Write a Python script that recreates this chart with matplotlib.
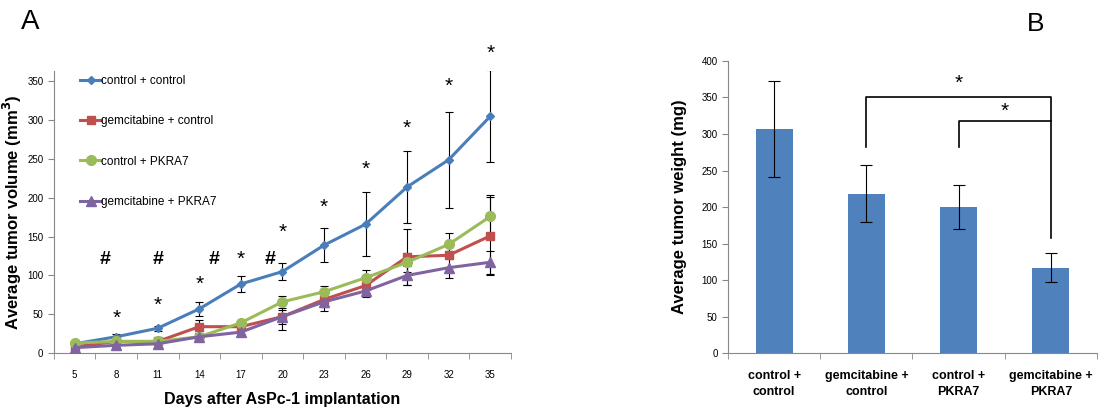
import numpy as np
import matplotlib
matplotlib.use("Agg")
import matplotlib.pyplot as plt

plt.rcParams['font.family'] = ['Liberation Sans', 'DejaVu Sans']

# ---- panel A data ----
days = [5, 8, 11, 14, 17, 20, 23, 26, 29, 32, 35]
series_names = ["control + control", "gemcitabine + control",
                "control + PKRA7", "gemcitabine + PKRA7"]
ctrl_ctrl = [12, 21, 32, 57, 89, 105, 139, 166, 214, 249, 305]
ctrl_ctrl_err = [2, 3, 3, 9, 10, 11, 22, 41, 46, 62, 59]
gem_ctrl = [8, 15, 15, 34, 34, 47, 69, 87, 124, 126, 151]
gem_ctrl_err = [1, 2, 2, 8, 3, 9, 10, 10, 36, 5, 50]
ctrl_pkra = [13, 15, 15, 21, 39, 66, 79, 97, 117, 140, 176]
ctrl_pkra_err = [1, 2, 2, 3, 3, 8, 8, 10, 12, 15, 27]
gem_pkra = [7, 10, 12, 21, 27, 47, 66, 80, 100, 110, 117]
gem_pkra_err = [1, 2, 2, 3, 3, 17, 12, 8, 12, 13, 15]

# annotation marks: (category position, height)
star_pos = [1, 2, 3, 4, 5, 6, 7, 8, 9, 10]
star_y = [45, 61, 88, 121, 156, 188, 237, 289, 343, 386]
hash_pos = [0.73, 2.02, 3.36, 4.7]
hash_y = [121, 121, 121, 121]

# ---- panel B data ----
groups = ["control +\ncontrol", "gemcitabine +\ncontrol",
          "control +\nPKRA7", "gemcitabine +\nPKRA7"]
weights = [307, 218, 200, 117]
weight_err = [66, 39, 30, 20]

colors = ["#4A7EBB", "#C0504D", "#9BBB59", "#8064A2"]
markers = ["D", "s", "o", "^"]
msizes = [4, 6, 7, 7]

fig = plt.figure(figsize=(10.99, 4.12), dpi=100)
axA = fig.add_axes([0.049, 0.143, 0.416, 0.684])
axB = fig.add_axes([0.6624, 0.143, 0.3358, 0.709])

x = np.arange(len(days))
all_vals = [ctrl_ctrl, gem_ctrl, ctrl_pkra, gem_pkra]
all_errs = [ctrl_ctrl_err, gem_ctrl_err, ctrl_pkra_err, gem_pkra_err]
for vals, errs in zip(all_vals, all_errs):
    axA.errorbar(x, vals, yerr=errs, fmt='none', ecolor='black', elinewidth=0.8,
                 capsize=3, capthick=0.8, zorder=2)
for vals, c, m, ms, name in zip(all_vals, colors, markers, msizes, series_names):
    axA.plot(x, vals, color=c, marker=m, markersize=ms, linewidth=2.2,
             label=name, zorder=3)

for px, py in zip(star_pos, star_y):
    axA.text(px, py, "*", ha='center', va='center', fontsize=15, clip_on=False)
for px, py in zip(hash_pos, hash_y):
    axA.text(px, py, "#", ha='center', va='center', fontsize=14, fontweight='bold')

axA.set_xlim(-0.5, len(days) - 0.5)
axA.set_ylim(0, 363)
axA.set_yticks(range(0, 351, 50))
axA.set_xticks(x)
axA.set_xticklabels([str(d) for d in days])
axA.set_xticks(np.arange(-0.5, len(days), 1), minor=True)
axA.tick_params(axis='x', which='major', length=0, labelsize=7, pad=12)
axA.tick_params(axis='x', which='minor', length=4, color='#888888')
axA.tick_params(axis='y', length=4, color='#888888', labelsize=7)
for s in ['top', 'right']:
    axA.spines[s].set_visible(False)
for s in ['left', 'bottom']:
    axA.spines[s].set_color('#888888')
axA.set_xlabel("Days after AsPc-1 implantation", fontsize=11.5, fontweight='bold', labelpad=9)
axA.set_ylabel("Average tumor volume (mm$^\\mathbf{3}$)", fontsize=12, fontweight='bold')
axA.yaxis.set_label_coords(-0.066, 0.5)
axA.legend(loc='upper left', bbox_to_anchor=(0.035, 1.025), frameon=False, fontsize=8.5,
           labelspacing=2.4, handlelength=1.7, handletextpad=0.05)

xb = np.arange(len(groups))
axB.bar(xb, weights, width=0.4, color="#4F81BD", zorder=2)
axB.errorbar(xb, weights, yerr=weight_err, fmt='none', ecolor='black', elinewidth=0.8,
             capsize=4, capthick=0.8, zorder=3)
# significance brackets
axB.plot([1, 1, 3, 3], [282, 351, 351, 157], color='black', linewidth=1.2)
axB.plot([2, 2, 3], [282, 318, 318], color='black', linewidth=1.2)
axB.text(2, 369, "*", ha='center', va='center', fontsize=15)
axB.text(2.5, 331, "*", ha='center', va='center', fontsize=15)

axB.set_xlim(-0.5, len(groups) - 0.5)
axB.set_ylim(0, 400)
axB.set_yticks(range(0, 401, 50))
axB.set_xticks(xb)
axB.set_xticklabels(groups, fontsize=9, fontweight='bold', linespacing=1.5)
axB.set_xticks(np.arange(-0.5, len(groups), 1), minor=True)
axB.tick_params(axis='x', which='major', length=0, pad=12)
axB.tick_params(axis='x', which='minor', length=4, color='#888888')
axB.tick_params(axis='y', length=4, color='#888888', labelsize=7)
for s in ['top', 'right']:
    axB.spines[s].set_visible(False)
for s in ['left', 'bottom']:
    axB.spines[s].set_color('#888888')
axB.set_ylabel("Average tumor weight (mg)", fontsize=12, fontweight='bold')
axB.yaxis.set_label_coords(-0.111, 0.5)

fig.text(0.019, 0.93, "A", fontsize=20)
fig.text(0.934, 0.925, "B", fontsize=19)

fig.savefig("out.png", dpi=100)
